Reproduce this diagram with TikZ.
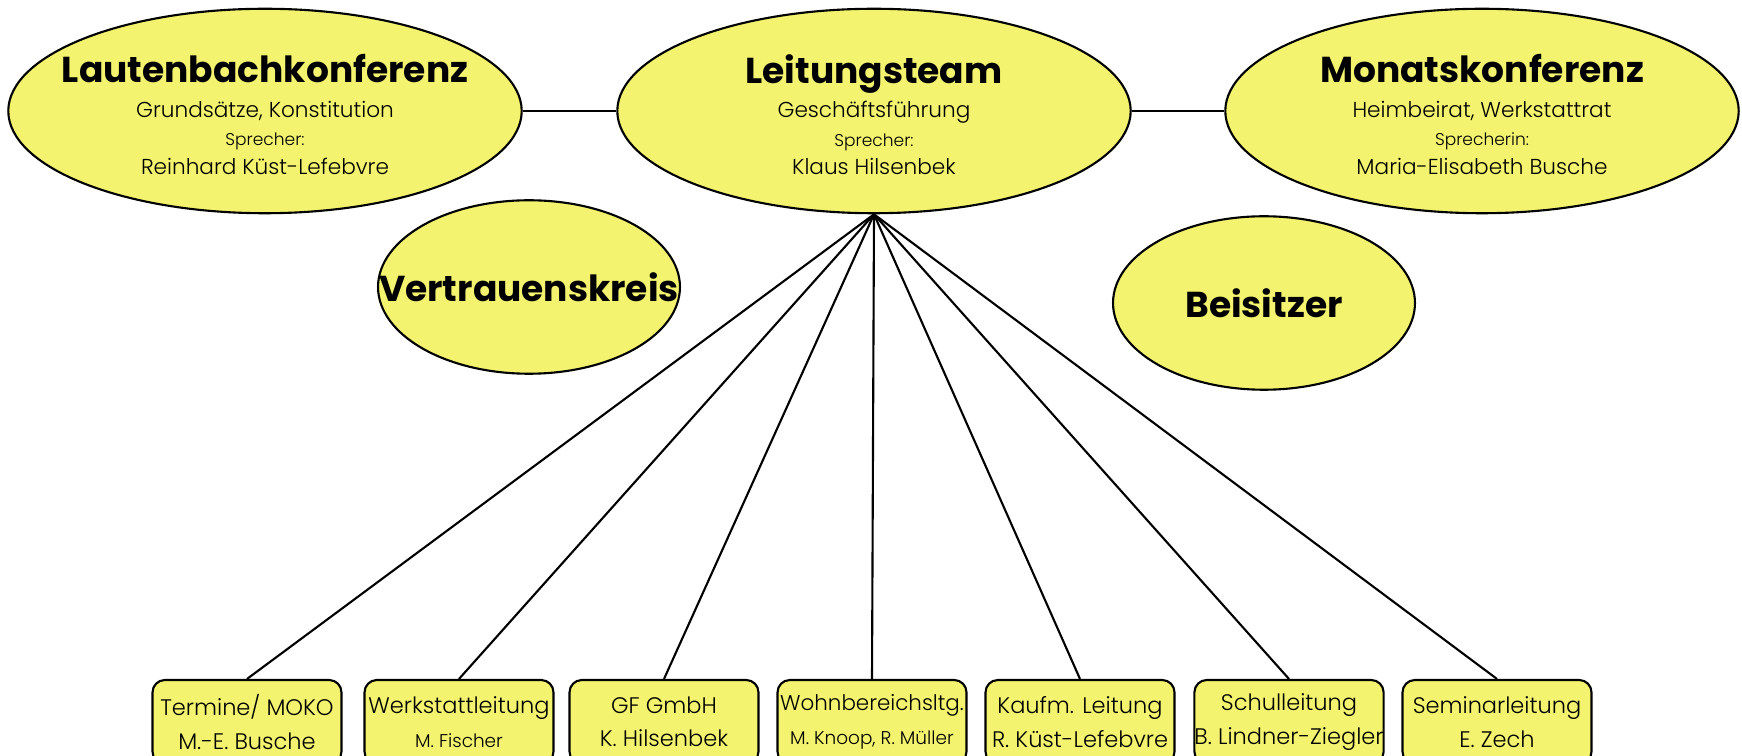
\documentclass[tikz,border=0pt]{standalone}
\usepackage{fontspec}
\setmainfont{Poppins}[UprightFont=* Light, BoldFont=* Bold]
\usetikzlibrary{shapes.geometric}
\definecolor{gelb}{RGB}{243,243,112}
\newcommand{\gross}[1]{{\fontsize{20.5}{22}\selectfont\bfseries #1}}
\newcommand{\mittel}[1]{{\fontsize{12.3}{15}\selectfont #1}}
\newcommand{\klein}[1]{{\fontsize{9.7}{12}\selectfont #1}}
\newcommand{\boxtext}[1]{{\fontsize{12.8}{15}\selectfont #1}}
\newcommand{\boxklein}[1]{{\fontsize{10.5}{12}\selectfont #1}}

\begin{document}
\begin{tikzpicture}[x=0.02cm,y=-0.02cm,
	kreis/.style={ellipse,draw,line width=1.2pt,fill=gelb,inner sep=0pt},
	inhalt/.style={align=center,inner sep=0pt,yshift=-0.07cm,font=\fontsize{12}{16.1}\selectfont},
	stelle/.style={rectangle,rounded corners=7pt,draw,line width=1.2pt,fill=gelb,align=center,inner sep=0pt,minimum width=3.78cm,minimum height=1.68cm,font=\fontsize{12}{19}\selectfont},
	linie/.style={line width=1.2pt}]
	
	\useasboundingbox (0,0) rectangle (1742,756);
	
	% obere Reihe
	\node[kreis,minimum width=10.27cm,minimum height=4.09cm] (laut) at (265,111) {};
	\node[kreis,minimum width=10.27cm,minimum height=4.09cm] (leit) at (874,111) {};
	\node[kreis,minimum width=10.27cm,minimum height=4.09cm] (mona) at (1482,111) {};
	\node[inhalt] (laut-t) at (laut) {\gross{Lautenbachkonferenz}\\[3.7pt] \mittel{Grundsätze, Konstitution}\\ \klein{Sprecher:}\\ \mittel{Reinhard Küst-Lefebvre}};
	\node[inhalt] (leit-t) at (leit) {\gross{Leitungsteam}\\[3.7pt] \mittel{Geschäftsführung}\\ \klein{Sprecher:}\\ \mittel{Klaus Hilsenbek}};
	\node[inhalt] (mona-t) at (mona) {\gross{Monatskonferenz}\\[3.7pt] \mittel{Heimbeirat, Werkstattrat}\\ \klein{Sprecherin:}\\ \mittel{Maria-Elisabeth Busche}};
	
	\node[kreis,minimum width=6.04cm,minimum height=3.47cm] (vert) at (529,287) {};
	\node[kreis,minimum width=6.04cm,minimum height=3.47cm] (beis) at (1264,303) {};
	\node (vert-t) at (vert) {\gross{Vertrauenskreis}};
	\node (beis-t) at (beis) {\gross{Beisitzer}};
	
	\draw[linie] (laut.east) -- (leit.west);
	\draw[linie] (leit.east) -- (mona.west);
	
	% untere Reihe
	\foreach \i/\x/\a/\b in {1/247/{Termine/ MOKO}/{\boxtext{M.-E. Busche}},
		2/459/{Werkstattleitung}/{\boxklein{M. Fischer}},
		3/664/{GF GmbH}/{\boxtext{K. Hilsenbek}},
		4/872/{\fontsize{12.2}{15}\selectfont Wohnbereichsltg.}/{\boxklein{M. Knoop, R. Müller}},
		5/1080/{Kaufm. Leitung}/{\boxtext{R. Küst-Lefebvre}},
		6/1289/{Schulleitung}/{\boxtext{B. Lindner-Ziegler}},
		7/1497/{Seminarleitung}/{\boxtext{E. Zech}}}
	{
		\node[stelle] (s\i) at (\x,722) {\boxtext{\a}\\ \b};
		\draw[linie] (leit.south) -- (s\i.north);
	}
\end{tikzpicture}
\end{document}
